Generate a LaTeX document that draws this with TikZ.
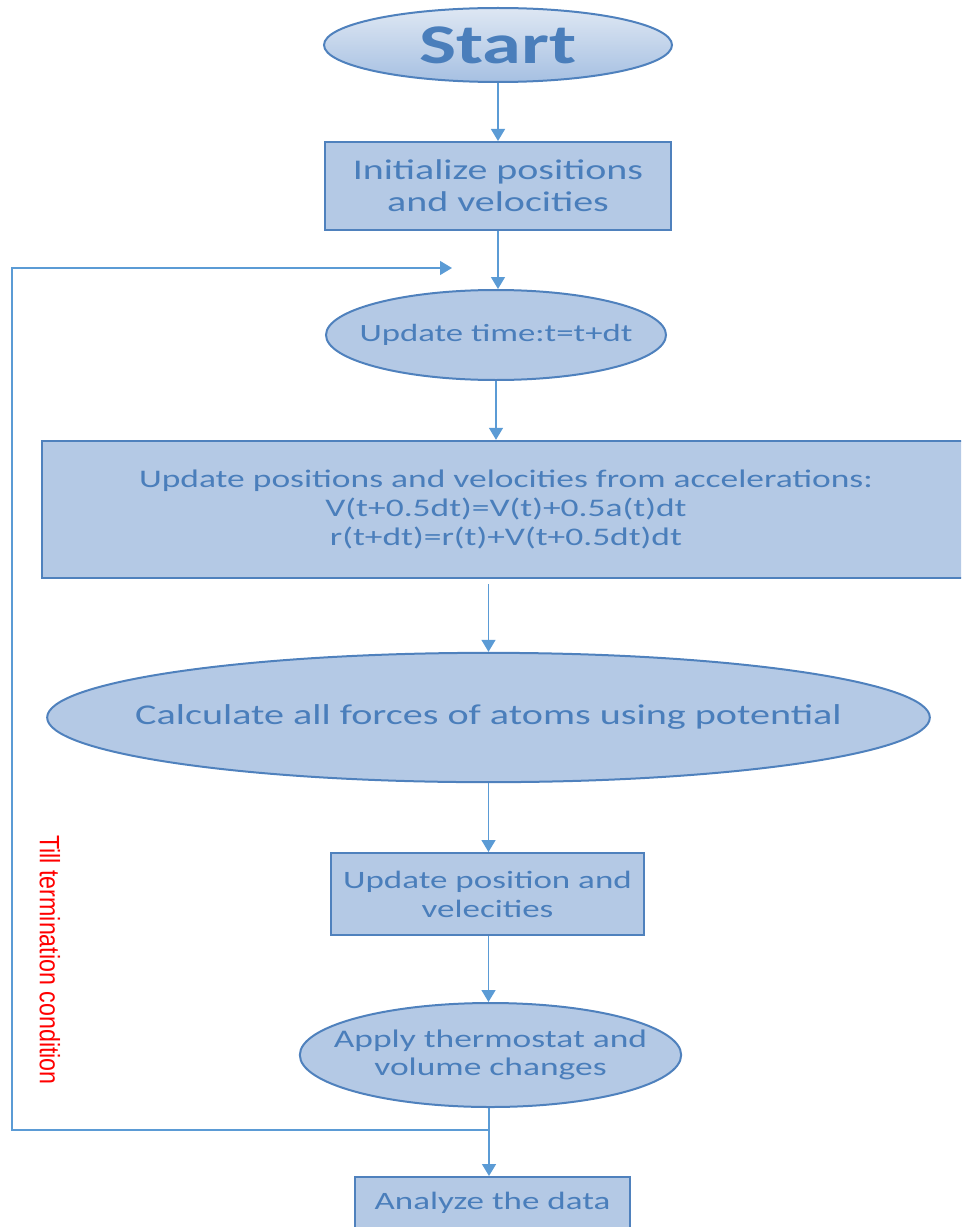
\documentclass[tikz,border=0pt]{standalone}
\usepackage{fontspec}
\setmainfont{Carlito}
\newfontfamily\calwide[FakeStretch=1.4]{Carlito}
\newfontfamily\redfont[FakeStretch=0.83]{Liberation Sans}
\usetikzlibrary{shapes.geometric,arrows.meta}
\definecolor{boxfill}{RGB}{180,201,229}
\definecolor{boxline}{RGB}{79,129,189}
\definecolor{txt}{RGB}{74,126,187}
\definecolor{arrc}{RGB}{91,155,213}
\definecolor{gtop}{RGB}{222,231,243}
\definecolor{gbot}{RGB}{166,192,226}
\tikzset{
  base/.style={draw=boxline, line width=1.5pt, fill=boxfill, text=txt, inner sep=0pt, align=center},
  boxnode/.style={base, rectangle},
  ellnode/.style={base, ellipse},
  eltext/.style={text=txt, inner sep=0pt, align=center},
  arr/.style={draw=arrc, line width=1.1pt, -{Triangle[width=10.5pt,length=9pt]}},
  plain/.style={draw=arrc, line width=1.1pt},
}
\begin{document}
\begin{tikzpicture}[x=0.75pt,y=-0.75pt]
\useasboundingbox (0,0) rectangle (961,1227);
\clip (0,0) rectangle (961,1227);
% nodes
\node[ellnode, top color=gtop, bottom color=gbot, minimum width=261pt, minimum height=55.5pt] (start) at (498,45) {};
\node[eltext, font=\calwide\fontsize{42}{46}\selectfont\bfseries] (start-t) at (start) {Start};
\node[boxnode, minimum width=260pt, minimum height=66pt,
      font=\calwide\fontsize{21.4}{24}\selectfont] (init) at (498,186) {Initialize positions\\and velocities};
\node[ellnode, minimum width=255pt, minimum height=67.5pt] (time) at (496,335) {};
\node[eltext, font=\calwide\fontsize{18.6}{21}\selectfont] (time-t) at (time) {Update time:t=t+dt};
\node[boxnode, minimum width=696pt, minimum height=103pt,
      font=\calwide\fontsize{19}{22}\selectfont] (upd) at (506,509.5) {Update positions and velocities from accelerations:\\V(t+0.5dt)=V(t)+0.5a(t)dt\\r(t+dt)=r(t)+V(t+0.5dt)dt};
\node[ellnode, minimum width=662pt, minimum height=97pt] (forces) at (488.5,717.5) {};
\node[eltext, font=\calwide\fontsize{21.5}{24}\selectfont] (forces-t) at (forces) {Calculate all forces of atoms using potential};
\node[boxnode, minimum width=235pt, minimum height=61.5pt,
      font=\calwide\fontsize{18.75}{21.75}\selectfont] (pos) at (487.5,894) {Update position and\\velecities};
\node[ellnode, minimum width=286pt, minimum height=78pt] (thermo) at (490.5,1055) {};
\node[eltext, font=\calwide\fontsize{19}{21}\selectfont] (thermo-t) at (thermo) {Apply thermostat and\\volume changes};
\node[boxnode, minimum width=206pt, minimum height=39pt,
      font=\calwide\fontsize{18.75}{21}\selectfont] (analyze) at (492.5,1203) {Analyze the data};
\node[text=red, rotate=-90, inner sep=0pt, font=\redfont\fontsize{21}{24}\selectfont] (till) at (50,960) {Till termination condition};
% connectors
\draw[arr] (start.south) -- (init.north);
\draw[arr] (init.south) -- (init.south |- time.north);
\draw[arr] (time.south) -- (time.south |- upd.north);
\draw[arr, shorten <=3.75pt] (forces.north |- upd.south) -- (forces.north);
\draw[arr] (forces.south) -- (pos.north -| forces.south);
\draw[arr] (pos.south -| forces.south) -- (thermo.north -| forces.south);
\coordinate (j) at (489,1130);
\coordinate (bl) at (12,1130);
\coordinate (tl) at (12,268);
\coordinate (tip) at (452,268);
\draw[plain] (thermo.south -| j) -- (j);
\draw[arr] (j) -- (j |- analyze.north);
\draw[arr] (j) -- (bl) -- (tl) -- (tip);
\end{tikzpicture}
\end{document}
